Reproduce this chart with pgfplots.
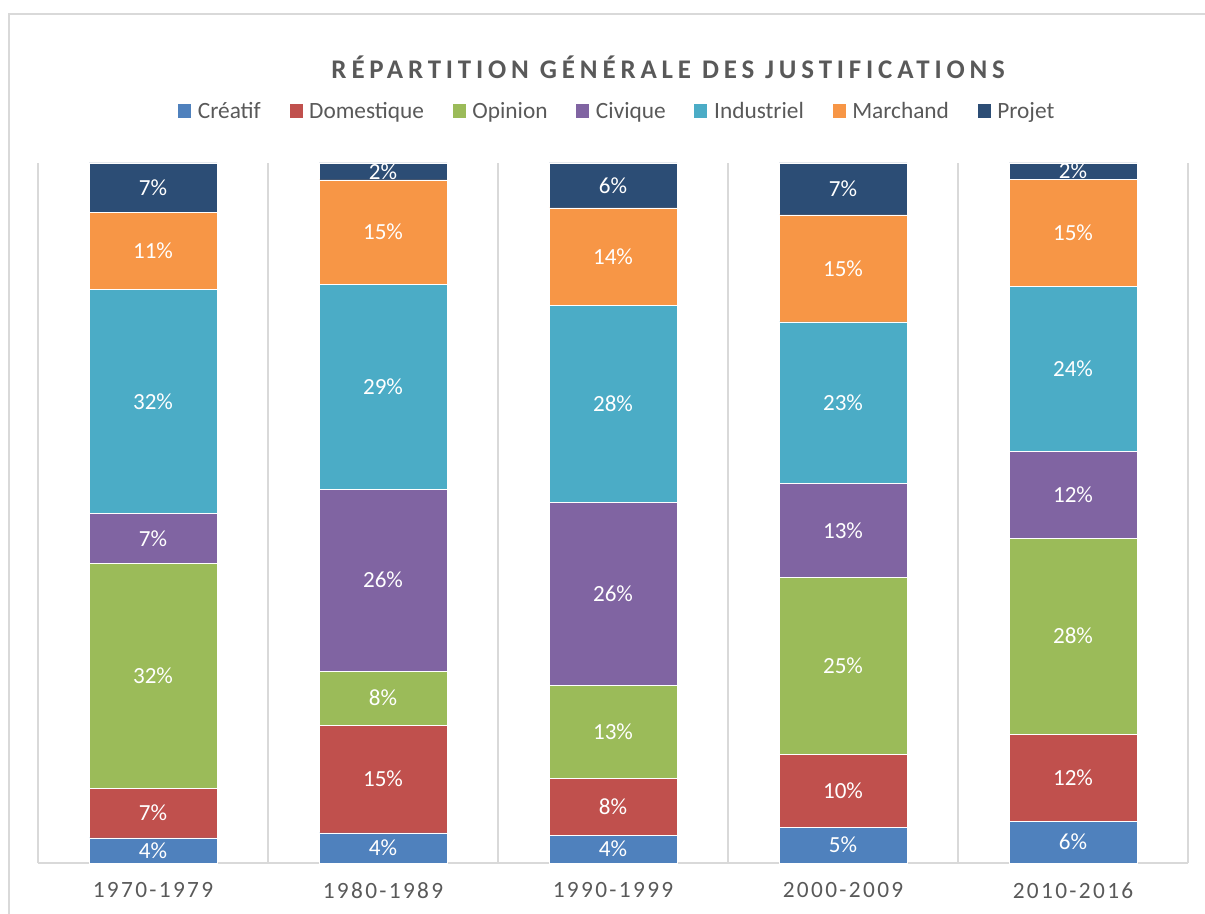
\documentclass[border=0pt]{standalone}
\usepackage{fontspec}
\setmainfont{Carlito}
\usepackage{pgfplots}
\usepackage{pgfplotstable}
\pgfplotsset{compat=1.18}
\definecolor{cCre}{HTML}{4F81BD}
\definecolor{cDom}{HTML}{C0504D}
\definecolor{cOpi}{HTML}{9BBB59}
\definecolor{cCiv}{HTML}{8064A2}
\definecolor{cInd}{HTML}{4BACC6}
\definecolor{cMar}{HTML}{F79646}
\definecolor{cPro}{HTML}{2C4D75}
\definecolor{gridgray}{HTML}{D9D9D9}
\definecolor{textgray}{HTML}{595959}
\pgfplotstableread{
x cre dom opi civ ind mar pro
0 3.6 7.1 32.1 7.1 32.1 10.9 7.1
1 4.3 15.4 7.7 26.0 29.3 14.9 2.4
2 4.0 8.1 13.3 26.1 28.2 13.9 6.4
3 5.1 10.4 25.3 13.4 23.1 15.3 7.4
4 6.0 12.4 28.0 12.4 23.6 15.3 2.3
}\data
\begin{document}
\begin{tikzpicture}
\path[use as bounding box] (0,0) rectangle (903.75pt,-684.75pt);
\draw[gridgray, line width=1.5pt] (6.4pt,-690pt) -- (6.4pt,-10.5pt) -- (910pt,-10.5pt);
\begin{axis}[
  at={(28.5pt,-647.25pt)}, anchor=south west,
  scale only axis, width=862.5pt, height=525pt,
  ybar stacked, bar width=96pt,
  xmin=-0.5, xmax=4.5, ymin=0, ymax=100,
  axis x line=bottom, axis y line=none,
  x axis line style={draw=gridgray, line width=1.5pt, -},
  xtick={0,1,2,3,4},
  xticklabels={1970-1979,1980-1989,1990-1999,2000-2009,2010-2016},
  major tick length=0pt, minor tick length=0pt,
  minor xtick={-0.5,0.5,1.5,2.5,3.5,4.5},
  xminorgrids=true,
  minor x grid style={gridgray, line width=1.1pt},
  xticklabel style={font=\fontsize{17.5pt}{20pt}\selectfont\addfontfeature{LetterSpace=10}, text=textgray, yshift=-11pt},
  ytick=\empty,
  title={RÉPARTITION GÉNÉRALE DES JUSTIFICATIONS},
  title style={at={(0.548,1.125)}, anchor=center, font=\bfseries\fontsize{20.2pt}{23pt}\selectfont\addfontfeature{LetterSpace=18}, text=textgray},
  legend style={at={(0.504,1.0743)}, anchor=center, draw=none, fill=none,
    legend columns=-1, font=\fontsize{17.5pt}{20pt}\selectfont, text=textgray,
    /tikz/every odd column/.append style={column sep=3pt},
    /tikz/every even column/.append style={column sep=19.5pt}},
  legend image code/.code={\fill[#1, draw=none] (0pt,-4.9pt) rectangle (9.75pt,4.9pt);},
  /pgf/number format/assume math mode=true,
  point meta=rawy,
  nodes near coords={\pgfmathprintnumber[fixed,precision=0]{\pgfplotspointmeta}\%},
  every node near coord/.append style={anchor=center, text=white,
    font=\fontsize{17.3pt}{20pt}\selectfont},
  ser/.style={fill=#1, draw=white, line width=0.4pt},
]
\addplot[ser=cCre] table[x=x, y=cre] {\data};
\addplot[ser=cDom] table[x=x, y=dom] {\data};
\addplot[ser=cOpi] table[x=x, y=opi] {\data};
\addplot[ser=cCiv] table[x=x, y=civ] {\data};
\addplot[ser=cInd] table[x=x, y=ind] {\data};
\addplot[ser=cMar] table[x=x, y=mar] {\data};
\addplot[ser=cPro] table[x=x, y=pro] {\data};
\legend{Créatif,Domestique,Opinion,Civique,Industriel,Marchand,Projet}
\end{axis}
\end{tikzpicture}
\end{document}
